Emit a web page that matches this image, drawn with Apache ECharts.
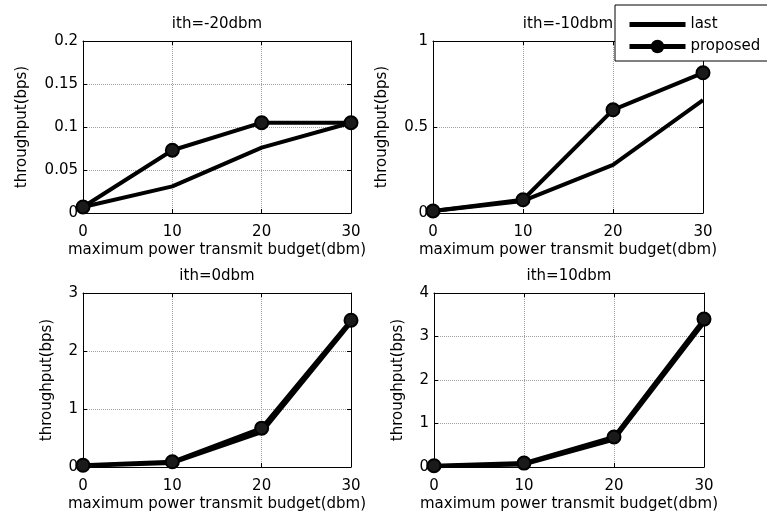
<!DOCTYPE html>
<html>
<head>
<meta charset="utf-8">
<script src="https://cdn.jsdelivr.net/npm/echarts@6/dist/echarts.min.js"></script>
<style>
html,body{margin:0;padding:0;background:#fff;}
#c{width:767px;height:517px;}
</style>
</head>
<body>
<div id="c"></div>
<script>
// ---- data ----
const xValues = [0, 10, 20, 30];
const xTicks = {min: 0, max: 30, interval: 10};
const titles = ['ith=-20dbm', 'ith=-10dbm', 'ith=0dbm', 'ith=10dbm'];
const xAxisLabel = 'maximum power transmit budget(dbm)';
const yAxisLabel = 'throughput(bps)';
const seriesNames = ['last', 'proposed'];

const lastA = [0.007, 0.031, 0.076, 0.105];
const propA = [0.007, 0.073, 0.105, 0.105];
const lastB = [0.012, 0.070, 0.280, 0.656];
const propB = [0.012, 0.077, 0.600, 0.815];
const lastC = [0.02, 0.07, 0.60, 2.49];
const propC = [0.03, 0.09, 0.67, 2.53];
const lastD = [0.02, 0.06, 0.63, 3.32];
const propD = [0.03, 0.09, 0.69, 3.40];

const yMaxes = [0.2, 1, 3, 4];
const yIntervals = [0.05, 0.5, 1, 1];

const lastData = [lastA, lastB, lastC, lastD];
const propData = [propA, propB, propC, propD];

// ---- layout ----
const grids = [
  {left: 83, top: 41, width: 268, height: 172},
  {left: 433, top: 41, width: 270, height: 172},
  {left: 83, top: 293, width: 268, height: 174},
  {left: 434, top: 293, width: 270, height: 174}
];
const yNameGaps = [53, 43, 28, 28];

const FONT = 'DejaVu Sans';
const FS = 15;

const xAxes = [], yAxes = [], series = [];
grids.forEach((g, i) => {
  const base = {
    type: 'value', gridIndex: i,
    axisLine: {show: true, onZero: false, lineStyle: {color: '#000', width: 1}},
    axisTick: {show: true, inside: true, length: 4, lineStyle: {color: '#000'}}
  };
  xAxes.push(Object.assign({}, base, {
    position: 'bottom', min: xTicks.min, max: xTicks.max, interval: xTicks.interval,
    name: xAxisLabel, nameLocation: 'middle', nameGap: 30,
    nameTextStyle: {fontFamily: FONT, fontSize: FS, color: '#000'},
    axisLabel: {fontFamily: FONT, fontSize: FS, color: '#000', margin: 12},
    splitLine: {show: true, lineStyle: {color: '#a0a0a0', type: 'dotted', width: 1}}
  }));
  xAxes.push(Object.assign({}, base, {
    position: 'top', min: xTicks.min, max: xTicks.max, interval: xTicks.interval,
    name: titles[i], nameLocation: 'middle', nameGap: 9,
    nameTextStyle: {fontFamily: FONT, fontSize: FS, color: '#000'},
    axisLabel: {show: false}, splitLine: {show: false}
  }));
  yAxes.push(Object.assign({}, base, {
    position: 'left', min: 0, max: yMaxes[i], interval: yIntervals[i],
    name: yAxisLabel, nameLocation: 'middle', nameGap: yNameGaps[i], nameRotate: 90,
    nameTextStyle: {fontFamily: FONT, fontSize: FS, color: '#000'},
    axisLabel: {fontFamily: FONT, fontSize: FS, color: '#000', margin: 5},
    splitLine: {show: true, lineStyle: {color: '#a0a0a0', type: 'dotted', width: 1}}
  }));
  yAxes.push(Object.assign({}, base, {
    position: 'right', min: 0, max: yMaxes[i], interval: yIntervals[i],
    axisLabel: {show: false}, splitLine: {show: false}
  }));
  series.push({
    name: seriesNames[0], type: 'line', xAxisIndex: 2 * i, yAxisIndex: 2 * i,
    data: xValues.map((x, k) => [x, lastData[i][k]]),
    showSymbol: false, symbol: 'none',
    lineStyle: {color: '#000', width: 4}, itemStyle: {color: '#000'},
    animation: false, z: 3
  });
  series.push({
    name: seriesNames[1], type: 'line', xAxisIndex: 2 * i, yAxisIndex: 2 * i,
    data: xValues.map((x, k) => [x, propData[i][k]]),
    symbol: 'circle', symbolSize: 13, showAllSymbol: true,
    lineStyle: {color: '#000', width: 4},
    itemStyle: {color: '#1a1a1a', borderColor: '#000', borderWidth: 2},
    animation: false, z: 4
  });
});

const chart = echarts.init(document.getElementById('c'), null, {renderer: 'canvas'});
chart.setOption({
  backgroundColor: '#fff',
  animation: false,
  grid: grids.map(g => Object.assign({containLabel: false}, g)),
  xAxis: xAxes,
  yAxis: yAxes,
  series: series,
  legend: {
    data: [{name: seriesNames[0], icon: 'path://M0,0H56V5H0Z'}, {name: seriesNames[1]}],
    orient: 'vertical', left: 615, top: 5,
    padding: [12, 14, 7, 12], itemGap: 7, itemWidth: 56, itemHeight: 17,
    symbolKeepAspect: true,
    backgroundColor: '#fff', borderColor: '#000', borderWidth: 1,
    lineStyle: {width: 5, color: '#000'},
    itemStyle: {color: '#000', borderWidth: 0},
    textStyle: {fontFamily: FONT, fontSize: FS, color: '#000'},
    selectedMode: false, z: 10
  }
});
</script>
</body>
</html>
